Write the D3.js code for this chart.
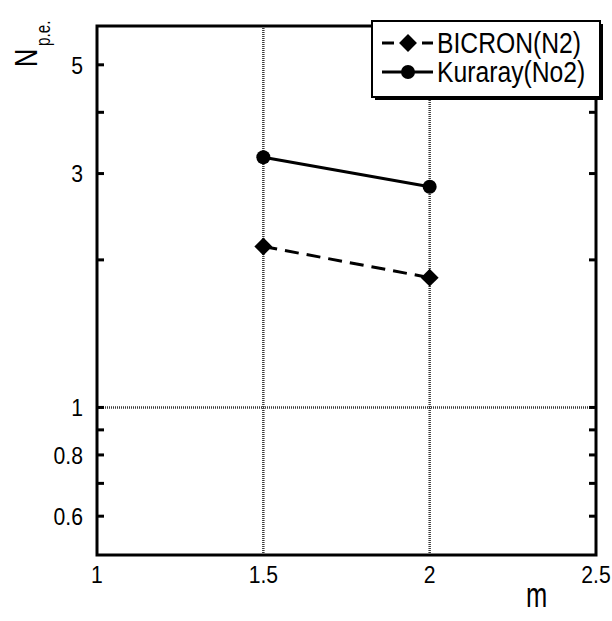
<!DOCTYPE html>
<html><head><meta charset="utf-8">
<script src="https://cdn.jsdelivr.net/npm/d3@7"></script>
<style>
html,body{margin:0;padding:0;background:#fff;}
text{font-family:"Liberation Sans",Arial,sans-serif;fill:#000;}
</style></head>
<body><svg id="c" width="612" height="621"></svg>
<script>
const mValues = [1.5, 2];
const bicron = [2.13, 1.84];
const kuraray = [3.24, 2.82];
const seriesNames = ["BICRON(N2)", "Kuraray(No2)"];
const xTicks = [1, 1.5, 2, 2.5];
const xTickLabels = ["1", "1.5", "2", "2.5"];
const yTickLabels = [0.6, 0.8, 1, 3, 5];
const yTickMarks = [0.6, 0.7, 0.8, 0.9, 1, 2, 3, 4, 5];
const xGrid = [1.5, 2];
const yGrid = [1];

const L = 97, R = 596, T = 26, B = 555;
const svg = d3.select("#c");
const x = d3.scaleLinear().domain([1, 2.5]).range([L, R]);
const y = d3.scaleLog().domain([0.5, 6]).range([B, T]);

// grid
const grid = svg.append("g").attr("stroke", "#3a3a3a").attr("stroke-width", 2.5).attr("stroke-dasharray", "1,1");
grid.selectAll("line.v").data(xGrid).join("line")
  .attr("x1", d => x(d)).attr("x2", d => x(d)).attr("y1", B).attr("y2", T);
grid.selectAll("line.h").data(yGrid).join("line")
  .attr("x1", L).attr("x2", R).attr("y1", d => y(d)).attr("y2", d => y(d));

// ticks left & right (inward)
const tk = svg.append("g").attr("stroke", "#000").attr("stroke-width", 3);
tk.selectAll("line.l").data(yTickMarks).join("line")
  .attr("x1", L).attr("x2", L + 7).attr("y1", d => y(d)).attr("y2", d => y(d));
tk.selectAll("line.r").data(yTickMarks).join("line")
  .attr("x1", R).attr("x2", R - 7).attr("y1", d => y(d)).attr("y2", d => y(d));

// frame
svg.append("rect").attr("x", L).attr("y", T).attr("width", R - L).attr("height", B - T)
  .attr("fill", "none").attr("stroke", "#000").attr("stroke-width", 3);

// tick labels (slightly condensed like the original)
svg.append("g").selectAll("text").data(yTickLabels).join("text")
  .attr("transform", d => `translate(83,${y(d)}) scale(0.92,1.05)`)
  .attr("dy", "0.36em").attr("text-anchor", "end")
  .attr("font-size", 23).text(d => d);
svg.append("g").selectAll("text").data(xTicks).join("text")
  .attr("transform", d => `translate(${x(d)},583) scale(0.92,1.05)`)
  .attr("text-anchor", "middle")
  .attr("font-size", 23).text((d, i) => xTickLabels[i]);

// axis labels
svg.append("text").attr("transform", "translate(526,607) scale(0.85,1.15)").attr("font-size", 30).text("m");
const yl = svg.append("text").attr("transform", "translate(37,67) rotate(-90) scale(0.9,1.15)").attr("font-size", 28);
yl.append("tspan").text("N");
yl.append("tspan").attr("font-size", 17).attr("dx", 3).attr("dy", 11).text("p.e.");

// series
const line = d3.line().x((d, i) => x(mValues[i])).y(d => y(d));
svg.append("path").datum(bicron).attr("d", line).attr("fill", "none")
  .attr("stroke", "#000").attr("stroke-width", 3).attr("stroke-dasharray", "14,8");
svg.append("path").datum(kuraray).attr("d", line).attr("fill", "none")
  .attr("stroke", "#000").attr("stroke-width", 3);
const diamond = d3.symbol().type(d3.symbolSquare).size(160);
svg.append("g").selectAll("path").data(bicron).join("path")
  .attr("d", diamond())
  .attr("transform", (d, i) => `translate(${x(mValues[i])},${y(d)}) rotate(45)`).attr("fill", "#000");
svg.append("g").selectAll("circle").data(kuraray).join("circle")
  .attr("cx", (d, i) => x(mValues[i])).attr("cy", d => y(d)).attr("r", 7).attr("fill", "#000");

// legend
const lg = svg.append("g");
lg.append("rect").attr("x", 375).attr("y", 24).attr("width", 228).attr("height", 76).attr("fill", "#000");
lg.append("rect").attr("x", 372).attr("y", 21).attr("width", 228).attr("height", 76)
  .attr("fill", "#fff").attr("stroke", "#000").attr("stroke-width", 2);
const rows = [43, 72];
lg.append("line").attr("x1", 382).attr("x2", 433).attr("y1", rows[0]).attr("y2", rows[0])
  .attr("stroke", "#000").attr("stroke-width", 3).attr("stroke-dasharray", "12,8");
lg.append("path").attr("d", diamond()).attr("transform", `translate(408,${rows[0]}) rotate(45)`).attr("fill", "#000");
lg.append("line").attr("x1", 382).attr("x2", 433).attr("y1", rows[1]).attr("y2", rows[1])
  .attr("stroke", "#000").attr("stroke-width", 3);
lg.append("circle").attr("cx", 408).attr("cy", rows[1]).attr("r", 7).attr("fill", "#000");
lg.selectAll("text").data(seriesNames).join("text")
  .attr("transform", (d, i) => `translate(437,${rows[i] + 10}) scale(0.95,1.1)`)
  .attr("font-size", 26).text(d => d);
</script></body></html>
